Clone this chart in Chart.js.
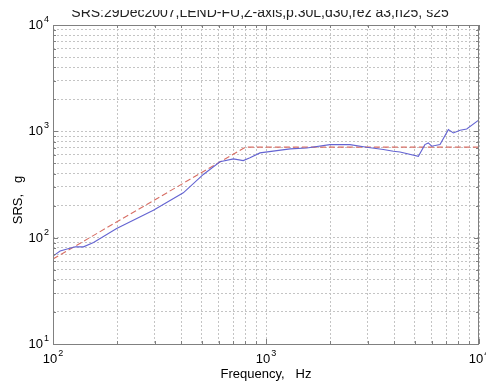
<!DOCTYPE html>
<html>
<head>
<meta charset="utf-8">
<script src="https://cdn.jsdelivr.net/npm/chart.js@4/dist/chart.umd.min.js"></script>
<style>
    html, body { margin: 0; padding: 0; background: #fff; }
    #wrap { width: 486px; height: 383px; }
</style>
</head>
<body>
<div id="wrap"><canvas id="srsChart" width="486" height="383"></canvas></div>
<script>
// measured SRS (blue)
const srsFreq = [100, 108, 127, 139, 155, 199, 296, 409, 508, 608, 703, 782, 841, 937, 1297, 1553, 1995, 2477, 2970, 3556, 3965, 4256, 5192, 5570, 5781, 5998, 6561, 7180, 7580, 8150, 8755, 10000];
const srsValue = [67, 75, 82, 82, 90, 122, 181, 264, 393, 517, 551, 531, 563, 627, 684, 698, 750, 750, 708, 675, 650, 640, 583, 750, 778, 724, 750, 1038, 966, 1023, 1053, 1280];

// specification (red dashed)
const specFreq = [100, 800, 10000];
const specValue = [63, 710, 710];

const titleText = 'SRS:29Dec2007,LEND-FU,Z-axis,p.30L,d30,rez a3,n25, s25';
const xLabel = 'Frequency,   Hz';
const yLabel = 'SRS,   g';
const xDecades = [2, 3, 4];
const yDecades = [1, 2, 3, 4];

function toPoints(xs, ys) {
    return xs.map((x, i) => ({ x: x, y: ys[i] }));
}

function logTicks(decades) {
    const ticks = [];
    for (let d = decades[0]; d < decades[decades.length - 1]; d++) {
        for (let s = 1; s < 10; s++) ticks.push({ value: s * Math.pow(10, d) });
    }
    ticks.push({ value: Math.pow(10, decades[decades.length - 1]) });
    return ticks;
}

const FONT = 'Liberation Sans, Arial, sans-serif';

// box, inward ticks, power labels, axis titles and the title
const matlabAxes = {
    id: 'matlabAxes',
    afterDraw(chart) {
        const ctx = chart.ctx;
        const a = chart.chartArea;
        const xs = chart.scales.x;
        const ys = chart.scales.y;
        ctx.save();

        // box
        ctx.strokeStyle = '#808080';
        ctx.lineWidth = 1;
        ctx.strokeRect(a.left + 0.5, a.top + 0.5, a.right - a.left - 1, a.bottom - a.top);

        // inward tick marks
        ctx.beginPath();
        xs.ticks.forEach(t => {
            const px = Math.round(xs.getPixelForValue(t.value)) + 0.5;
            const len = Math.log10(t.value) % 1 === 0 ? 5 : 3;
            ctx.moveTo(px, a.bottom); ctx.lineTo(px, a.bottom - len);
            ctx.moveTo(px, a.top); ctx.lineTo(px, a.top + len);
        });
        ys.ticks.forEach(t => {
            const py = Math.round(ys.getPixelForValue(t.value)) + 0.5;
            const len = Math.log10(t.value) % 1 === 0 ? 5 : 3;
            ctx.moveTo(a.left, py); ctx.lineTo(a.left + len, py);
            ctx.moveTo(a.right, py); ctx.lineTo(a.right - len, py);
        });
        ctx.stroke();

        ctx.fillStyle = '#000';
        ctx.textBaseline = 'alphabetic';

        // x power labels
        xDecades.forEach(d => {
            const px = xs.getPixelForValue(Math.pow(10, d));
            ctx.font = '13px ' + FONT;
            const w = ctx.measureText('10').width;
            ctx.textAlign = 'left';
            ctx.fillText('10', px - w / 2 - 3, a.bottom + 19);
            ctx.font = '9px ' + FONT;
            ctx.fillText(String(d), px + w / 2 - 2, a.bottom + 12);
        });

        // y power labels
        yDecades.forEach(d => {
            const py = ys.getPixelForValue(Math.pow(10, d));
            ctx.font = '13px ' + FONT;
            const w = ctx.measureText('10').width;
            ctx.textAlign = 'left';
            ctx.fillText('10', a.left - w - 10, py + 4);
            ctx.font = '9px ' + FONT;
            ctx.fillText(String(d), a.left - 9, py - 3);
        });

        // axis titles
        ctx.font = '13px ' + FONT;
        ctx.textAlign = 'center';
        ctx.fillText(xLabel, (a.left + a.right) / 2, 378);
        ctx.save();
        ctx.translate(22, 200);
        ctx.rotate(-Math.PI / 2);
        ctx.fillText(yLabel, 0, 0);
        ctx.restore();

        // title, top of the glyphs cut off like in the original
        ctx.save();
        ctx.beginPath();
        ctx.rect(0, 10, chart.width, 14);
        ctx.clip();
        ctx.font = '14px ' + FONT;
        ctx.fillStyle = '#222';
        ctx.fillText(titleText, 260, 17);
        ctx.restore();

        ctx.restore();
    }
};

const gridStyle = {
    color: '#c4c4c4',
    lineWidth: 1,
    drawTicks: false,
    tickLength: 0
};

new Chart(document.getElementById('srsChart'), {
    type: 'line',
    data: {
        datasets: [
            {
                label: 'SRS',
                data: toPoints(srsFreq, srsValue),
                borderColor: 'rgb(100, 100, 210)',
                borderWidth: 1.1,
                pointRadius: 0,
                tension: 0,
                fill: false
            },
            {
                label: 'Spec',
                data: toPoints(specFreq, specValue),
                borderColor: 'rgb(215, 110, 100)',
                borderWidth: 1.1,
                borderDash: [6, 3],
                pointRadius: 0,
                tension: 0,
                fill: false
            }
        ]
    },
    options: {
        responsive: false,
        animation: false,
        layout: {
            padding: { left: 53, top: 25, right: 7, bottom: 39 }
        },
        scales: {
            x: {
                type: 'logarithmic',
                min: 100,
                max: 10000,
                afterBuildTicks: axis => { axis.ticks = logTicks(xDecades); },
                ticks: { display: false },
                grid: gridStyle,
                border: { display: true, width: 0, color: 'rgba(0,0,0,0)', dash: [2, 2] }
            },
            y: {
                type: 'logarithmic',
                min: 10,
                max: 10000,
                afterBuildTicks: axis => { axis.ticks = logTicks(yDecades); },
                ticks: { display: false },
                grid: gridStyle,
                border: { display: true, width: 0, color: 'rgba(0,0,0,0)', dash: [2, 2] }
            }
        },
        plugins: {
            legend: { display: false },
            title: { display: false },
            tooltip: { enabled: false }
        }
    },
    plugins: [matlabAxes]
});
</script>
</body>
</html>
